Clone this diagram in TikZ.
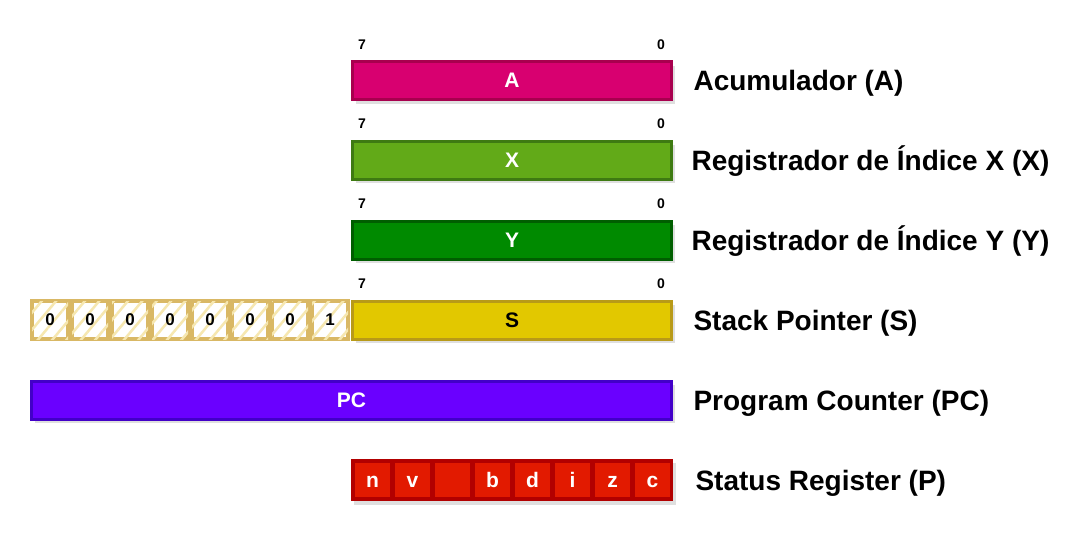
\documentclass[tikz,border=0pt]{standalone}
\usepackage{fontspec}
\setmainfont{Liberation Sans}
\usetikzlibrary{shadows,patterns.meta}

\definecolor{accfill}{HTML}{D80070}
\definecolor{accline}{HTML}{A8004E}
\definecolor{xfill}{HTML}{62AA18}
\definecolor{xline}{HTML}{3E7A12}
\definecolor{yfill}{HTML}{008A00}
\definecolor{yline}{HTML}{005E00}
\definecolor{sfill}{HTML}{E2C800}
\definecolor{sline}{HTML}{B89A18}
\definecolor{pcfill}{HTML}{6A00FF}
\definecolor{pcline}{HTML}{4200C8}
\definecolor{pfill}{HTML}{E21A00}
\definecolor{pline}{HTML}{B20000}
\definecolor{stkline}{HTML}{D9B865}
\definecolor{stkhatch}{HTML}{F6E7B0}

\tikzset{
  reg/.style={rectangle, draw, line width=3pt, minimum width=319pt, minimum height=38pt,
    inner sep=0pt, text=white, font=\fontsize{21}{24}\selectfont\bfseries,
    drop shadow={shadow xshift=3pt, shadow yshift=-4pt, opacity=.25}},
  bitno/.style={font=\fontsize{14}{16}\selectfont\bfseries},
  regname/.style={anchor=base west, font=\fontsize{28}{32}\selectfont\bfseries},
  stkcell/.style={rectangle, draw=stkline, line width=4pt, minimum width=36pt, minimum height=38pt,
    inner sep=0pt, fill=white, font=\fontsize{17}{20}\selectfont\bfseries,
    postaction={pattern={Lines[angle=50, distance=11pt, line width=2.5pt]}, pattern color=stkhatch}},
  flagcell/.style={rectangle, fill=pfill, minimum width=35pt, minimum height=34pt, inner sep=0pt,
    text height=15pt, text depth=0pt,
    text=white, font=\fontsize{21}{24}\selectfont\bfseries}
}

\begin{document}
\begin{tikzpicture}[x=1pt, y=-1pt]
\useasboundingbox (0,0) rectangle (1089,539);

% Accumulator
\node[bitno] (a7) at (362,45) {7};
\node[bitno] (a0) at (661,45) {0};
\node[reg, draw=accline, fill=accfill] (regA) at (512,80.5) {A};
\node[regname] (nameA) at (690,90.5) {Acumulador (A)};

% index X
\node[bitno] (x7) at (362,124) {7};
\node[bitno] (x0) at (661,124) {0};
\node[reg, draw=xline, fill=xfill] (regX) at (512,160) {X};
\node[regname] (nameX) at (688,170) {Registrador de Índice X (X)};

% index Y
\node[bitno] (y7) at (362,204) {7};
\node[bitno] (y0) at (661,204) {0};
\node[reg, draw=yline, fill=yfill] (regY) at (512,240) {Y};
\node[regname] (nameY) at (688,250) {Registrador de Índice Y (Y)};

% stack pointer, page 1
\foreach \i/\b in {0/0,1/0,2/0,3/0,4/0,5/0,6/0,7/1}
  \node[stkcell] (stk\i) at (50+40*\i,320) {\b};
\node[bitno] (s7) at (362,284) {7};
\node[bitno] (s0) at (661,284) {0};
\node[reg, draw=sline, fill=sfill, text=black] (regS) at (512,320) {S};
\node[regname] (nameS) at (690,330) {Stack Pointer (S)};

% program counter
\node[reg, draw=pcline, fill=pcfill, minimum width=640pt] (regPC) at (351.5,400) {PC};
\node[regname] (namePC) at (690,410) {Program Counter (PC)};

% status flags
\node[reg, draw=none, fill=pline, minimum width=322pt, minimum height=42pt] (regP) at (512,480) {};
\foreach \i/\f in {0/n,1/v,2/{},3/b,4/d,5/i,6/z,7/c}
  \node[flagcell] (flag\i) at (372.5+40*\i,480) {\f};
\node[regname] (nameP) at (692,490) {Status Register (P)};
\end{tikzpicture}
\end{document}
